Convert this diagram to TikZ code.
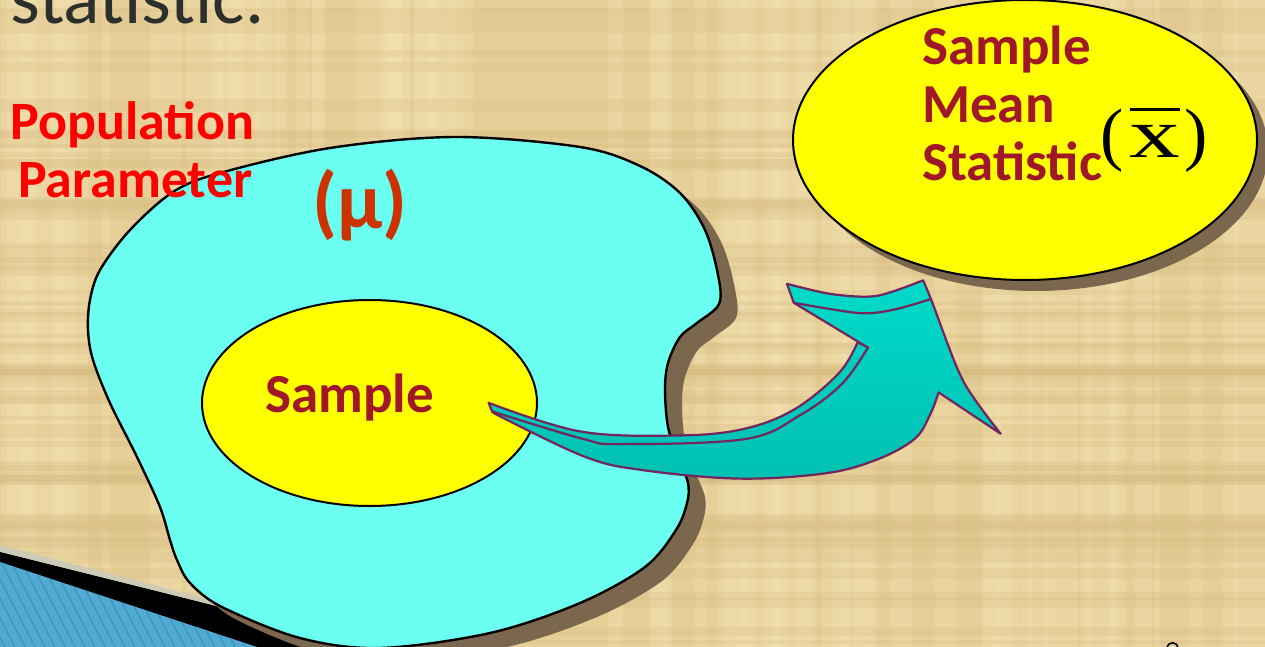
\documentclass[tikz,border=0pt]{standalone}
\usepackage{fontspec}
\usepackage{graphicx}
\usetikzlibrary{shapes.geometric}
\setmainfont{Carlito}
\newfontfamily\seriffont{Liberation Serif}
\definecolor{bgtan}{RGB}{231,207,152}
\definecolor{texlight}{RGB}{243,226,178}
\definecolor{texdark}{RGB}{214,186,128}
\definecolor{bandgray}{RGB}{205,203,182}
\definecolor{bandblue}{RGB}{80,170,210}
\definecolor{stripeblue}{RGB}{60,148,192}
\definecolor{shadowc}{RGB}{122,103,78}
\definecolor{popcyan}{RGB}{106,255,240}
\definecolor{sampyellow}{RGB}{255,255,0}
\definecolor{darkred}{RGB}{160,24,40}
\definecolor{muorange}{RGB}{204,51,0}
\definecolor{arrowtop}{RGB}{0,218,202}
\definecolor{arrowbot}{RGB}{0,192,178}
\definecolor{arrowedge}{RGB}{115,38,92}
\definecolor{titlegray}{RGB}{44,48,44}
\newcommand\blobpath{plot[smooth cycle, tension=0.55] coordinates {(455,137) (580,147) (640,166) (680,193) (705,230) (718,275) (719,304) (697,323) (680,337) (668,363) (665,390) (668,427) (678,457) (688,483) (687,503) (676,530) (645,567) (580,603) (490,633) (380,648) (300,638) (222,607) (190,583) (177,560) (170,540) (160,507) (137,457) (110,403) (93,360) (88,330) (90,300) (100,270) (130,230) (173,192) (220,173) (330,148)}}
\tikzset{
  blobline/.style={draw=black, line width=2.4pt},
  labelfont/.style={font=\fontsize{54}{57}\selectfont\bfseries, inner sep=0pt, anchor=base west},
  samplefont/.style={font=\fontsize{55}{57}\selectfont\bfseries, text=darkred, inner sep=0pt, anchor=base west},
  arrowshape/.style={draw=arrowedge, line width=2.2pt, line join=round, top color=arrowtop, bottom color=arrowbot},
  arrowline/.style={draw=arrowedge, line width=2.2pt, line cap=round},
}
\begin{document}
\begin{tikzpicture}[x=1pt,y=-1pt]
\useasboundingbox (0,0) rectangle (1265,647);
\clip (0,0) rectangle (1265,647);
\fill[bgtan] (0,0) rectangle (1265,647);
% papyrus texture
\pgfmathsetseed{11}
\foreach \i in {1,...,70} {
  \pgfmathsetmacro{\xx}{rnd*1265}
  \pgfmathsetmacro{\ww}{6+rnd*30}
  \fill[texlight, opacity=0.35] (\xx,0) rectangle (\xx+\ww,647);
}
\foreach \i in {1,...,60} {
  \pgfmathsetmacro{\yy}{rnd*647}
  \pgfmathsetmacro{\hh}{3+rnd*12}
  \fill[texdark, opacity=0.25] (0,\yy) rectangle (1265,\yy+\hh);
}
% bottom-left theme band
\fill[bandgray] (0,545) -- (320,628) -- (320,647) -- (0,647) -- cycle;
\fill[black] (0,552) -- (320,632) -- (320,647) -- (0,647) -- cycle;
\begin{scope}
  \clip (0,562) -- (257,647) -- (0,647) -- cycle;
  \fill[bandblue] (0,560) rectangle (260,647);
  \foreach \k in {-40,-30,...,300} {
    \draw[stripeblue, line width=1.2pt] (\k,560) -- (\k+45,647);
  }
\end{scope}
% title fragment
\node[font=\fontsize{76}{76}\selectfont, text=titlegray, inner sep=0pt, anchor=base west] (title) at (10,24) {statistic.};
% population blob
\fill[shadowc, shift={(17,14)}] \blobpath;
\path[fill=popcyan, blobline] \blobpath;
% sample ellipse
\node[ellipse, draw=black, line width=2pt, fill=sampyellow, minimum width=335pt, minimum height=206pt, inner sep=0pt] (sample) at (369.5,403) {};
\node[samplefont] (sampletext) at (265,412) {Sample};
% statistic ellipse
\fill[shadowc] (1036,151) ellipse [x radius=232pt, y radius=140pt];
\node[ellipse, draw=black, line width=2pt, fill=sampyellow, minimum width=464pt, minimum height=280pt, inner sep=0pt] (stat) at (1025,140) {};
\node[samplefont] (st1) at (922,65) {Sample};
\node[samplefont] (st2) at (922,123) {Mean};
\node[samplefont] (st3) at (922,180) {Statistic};
\node[font=\seriffont\fontsize{70}{70}\selectfont, text=black, inner sep=0pt, anchor=base west] (xbar) at (1100,158)
  {(\kern6pt\rlap{\raisebox{47pt}{\rule{50pt}{3pt}}}\scalebox{1.45}[1]{x}\kern4pt)};
% labels
\node[labelfont, text=red] (pop1) at (10,140) {Population};
\node[labelfont, text=red] (pop2) at (18,197) {Parameter};
\node[font=\fontsize{80}{80}\selectfont\bfseries, text=muorange, inner sep=0pt, anchor=base west] (mu) at (312,228) {(μ)};
% block arrow
\path[arrowshape] (488.6,402.8)
  -- plot[smooth, tension=0.6] coordinates {(488.6,402.8) (580,431.4) (676.6,435.5) (742.1,429.3) (793.8,409.7) (838.6,373.4) (857.6,342.4)}
  -- (867.9,347.6) -- (793.8,302.8) -- (786.9,283.8)
  -- plot[smooth] coordinates {(786.9,283.8) (831.7,294.1) (876.6,295.9) (923.1,280.3)}
  -- plot[smooth] coordinates {(923.1,280.3) (931.7,301) (962.8,380.3) (1000.7,433.8)}
  -- (938.6,392.4)
  -- plot[smooth, tension=0.6] coordinates {(938.6,392.4) (930,414.8) (914.5,439) (876.6,459.7) (824.8,473.4) (738.6,478.6) (642,470) (583.4,456.2) (493.8,413.1)}
  -- (492.1,411.4) -- cycle;
\draw[arrowline] plot[smooth, tension=0.6] coordinates {(867.9,347.6) (842,383.8) (800.7,414.8) (745.5,439) (621.4,444.1) (583.4,439) (492.1,411.4)};
\draw[arrowline] plot[smooth] coordinates {(793.8,302.8) (859.3,313.1) (893.8,309.7) (930,299.3)};
% cut-off glyph at bottom right
\draw[black, line width=1.6pt] (1167,648) .. controls (1168,641) and (1177,641) .. (1178,648);
\end{tikzpicture}
\end{document}
